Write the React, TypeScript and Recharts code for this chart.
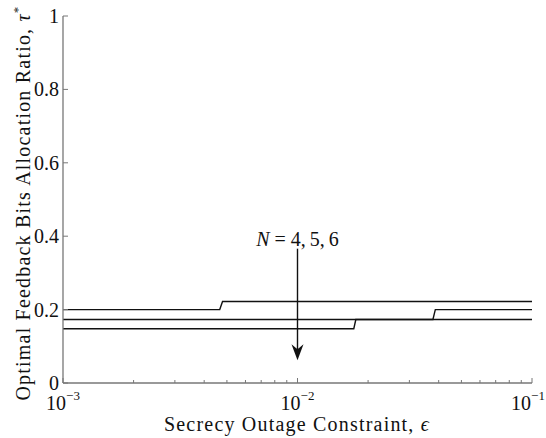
import { LineChart, Line, XAxis, YAxis, ReferenceLine, ReferenceDot } from "recharts";

// tau* versus epsilon, one step curve per antenna count
const N4_EPS = [0.001, 0.00466, 0.00479, 0.1];
const N4_TAU = [0.2, 0.2, 0.222, 0.222];
const N5_EPS = [0.001, 0.0378, 0.0387, 0.1];
const N5_TAU = [0.173, 0.173, 0.2, 0.2];
const N6_EPS = [0.001, 0.01738, 0.01773, 0.1];
const N6_TAU = [0.148, 0.148, 0.173, 0.173];

const X_TICKS = [
  0.001, 0.002, 0.003, 0.004, 0.005, 0.006, 0.007, 0.008, 0.009,
  0.01, 0.02, 0.03, 0.04, 0.05, 0.06, 0.07, 0.08, 0.09, 0.1,
];
const X_EXPONENTS: Record<string, string> = { "0.001": "\u22123", "0.01": "\u22122", "0.1": "\u22121" };
const Y_TICKS = [0, 0.2, 0.4, 0.6, 0.8, 1];

// arrow annotation
const ARROW_X = 0.01;
const ARROW_TOP = 0.366;
const ARROW_TIP = 0.062;
const ARROW_TEXT = "4,\u20095,\u20096";

const toPoints = (xs: number[], ys: number[]) => xs.map((x, i) => ({ x, y: ys[i] }));

const FONT = "'Liberation Serif', 'Times New Roman', serif";
const INK = "#111";
const AXIS = "#777";

const BottomTick = (props: any) => {
  const { x, y, payload } = props;
  const exp = X_EXPONENTS[String(payload.value)];
  const len = exp ? 5 : 3;
  // last label sits at the page edge, nudge it in a little
  const tx = payload.value === 0.1 ? x - 4 : x;
  return (
    <g>
      <line x1={x} y1={y} x2={x} y2={y - len} stroke={AXIS} strokeWidth={1} />
      {exp && (
        <text x={tx} y={y + 27} textAnchor="middle" fontFamily={FONT} fontSize={20} fill={INK}>
          10
          <tspan dy={-10} fontSize={13}>{exp}</tspan>
        </text>
      )}
    </g>
  );
};

const TopTick = (props: any) => {
  const { x, y, payload } = props;
  const len = X_EXPONENTS[String(payload.value)] ? 5 : 3;
  return <line x1={x} y1={y} x2={x} y2={y + len} stroke={AXIS} strokeWidth={1} />;
};

const LeftTick = (props: any) => {
  const { y, payload } = props;
  return (
    <g>
      <line x1={63} y1={y} x2={68} y2={y} stroke={AXIS} strokeWidth={1} />
      <text x={59} y={y} dy="0.35em" textAnchor="end" fontFamily={FONT} fontSize={20} fill={INK}>
        {payload.value}
      </text>
    </g>
  );
};

const RightTick = (props: any) => {
  const { y } = props;
  return <line x1={532} y1={y} x2={527} y2={y} stroke={AXIS} strokeWidth={1} />;
};

const ArrowHead = (props: any) => {
  const { cx, cy } = props;
  return (
    <path
      d={`M${cx},${cy} L${cx - 6},${cy - 16} L${cx},${cy - 11} L${cx + 6},${cy - 16} Z`}
      fill={INK}
      stroke="none"
    />
  );
};

const ArrowLabel = (props: any) => {
  const { cx, cy } = props;
  return (
    <text x={cx} y={cy - 3} textAnchor="middle" fontFamily={FONT} fontSize={20} fill={INK}>
      <tspan fontStyle="italic">N</tspan>
      {" = " + ARROW_TEXT}
    </text>
  );
};

export default function App() {
  const series = [toPoints(N4_EPS, N4_TAU), toPoints(N5_EPS, N5_TAU), toPoints(N6_EPS, N6_TAU)];

  return (
    <div style={{ position: "absolute", left: 0, top: 0, width: 546, height: 438, background: "#fff" }}>
      <LineChart width={546} height={438} margin={{ top: 16, right: 14, left: 0, bottom: 0 }}>
        <XAxis
          dataKey="x"
          type="number"
          scale="log"
          domain={[0.001, 0.1]}
          allowDataOverflow
          ticks={X_TICKS}
          interval={0}
          tick={BottomTick}
          tickLine={false}
          tickSize={0}
          tickMargin={0}
          axisLine={{ stroke: AXIS, strokeWidth: 1.3 }}
          height={55}
          label={(p: any) => (
            <text
              x={297}
              y={431}
              textAnchor="middle"
              fontFamily={FONT}
              fontSize={20}
              letterSpacing={1.2}
              fill={INK}
            >
              Secrecy Outage Constraint,{" "}
              <tspan fontStyle="italic">{"\u03F5"}</tspan>
            </text>
          )}
        />
        <XAxis
          xAxisId="top"
          orientation="top"
          dataKey="x"
          type="number"
          scale="log"
          domain={[0.001, 0.1]}
          allowDataOverflow
          ticks={X_TICKS}
          interval={0}
          tick={TopTick}
          tickLine={false}
          tickSize={0}
          tickMargin={0}
          axisLine={{ stroke: AXIS, strokeWidth: 1.3 }}
          height={0}
        />
        <YAxis
          type="number"
          domain={[0, 1]}
          ticks={Y_TICKS}
          interval={0}
          tick={LeftTick}
          tickLine={false}
          tickSize={0}
          tickMargin={0}
          axisLine={{ stroke: AXIS, strokeWidth: 1.3 }}
          width={63}
          label={(p: any) => (
            <text
              x={30}
              y={203}
              transform="rotate(-90, 30, 203)"
              textAnchor="middle"
              fontFamily={FONT}
              fontSize={20}
              letterSpacing={1.2}
              fill={INK}
            >
              Optimal Feedback Bits Allocation Ratio,{" "}
              <tspan fontStyle="italic">{"\u03C4"}</tspan>
              <tspan dy={-8} fontSize={13}>*</tspan>
            </text>
          )}
        />
        <YAxis
          yAxisId="right"
          orientation="right"
          type="number"
          domain={[0, 1]}
          ticks={Y_TICKS}
          interval={0}
          tick={RightTick}
          tickLine={false}
          tickSize={0}
          tickMargin={0}
          axisLine={{ stroke: AXIS, strokeWidth: 1.3 }}
          width={0}
        />
        {series.map((d, i) => (
          <Line
            key={i}
            data={d}
            dataKey="y"
            type="linear"
            stroke={INK}
            strokeWidth={1.4}
            dot={false}
            activeDot={false}
            isAnimationActive={false}
          />
        ))}
        <ReferenceLine
          segment={[
            { x: ARROW_X, y: ARROW_TOP },
            { x: ARROW_X, y: ARROW_TIP + 0.02 },
          ]}
          stroke={INK}
          strokeWidth={1.4}
        />
        <ReferenceDot x={ARROW_X} y={ARROW_TIP} shape={ArrowHead} />
        <ReferenceDot x={ARROW_X} y={ARROW_TOP} shape={ArrowLabel} />
      </LineChart>
    </div>
  );
}
